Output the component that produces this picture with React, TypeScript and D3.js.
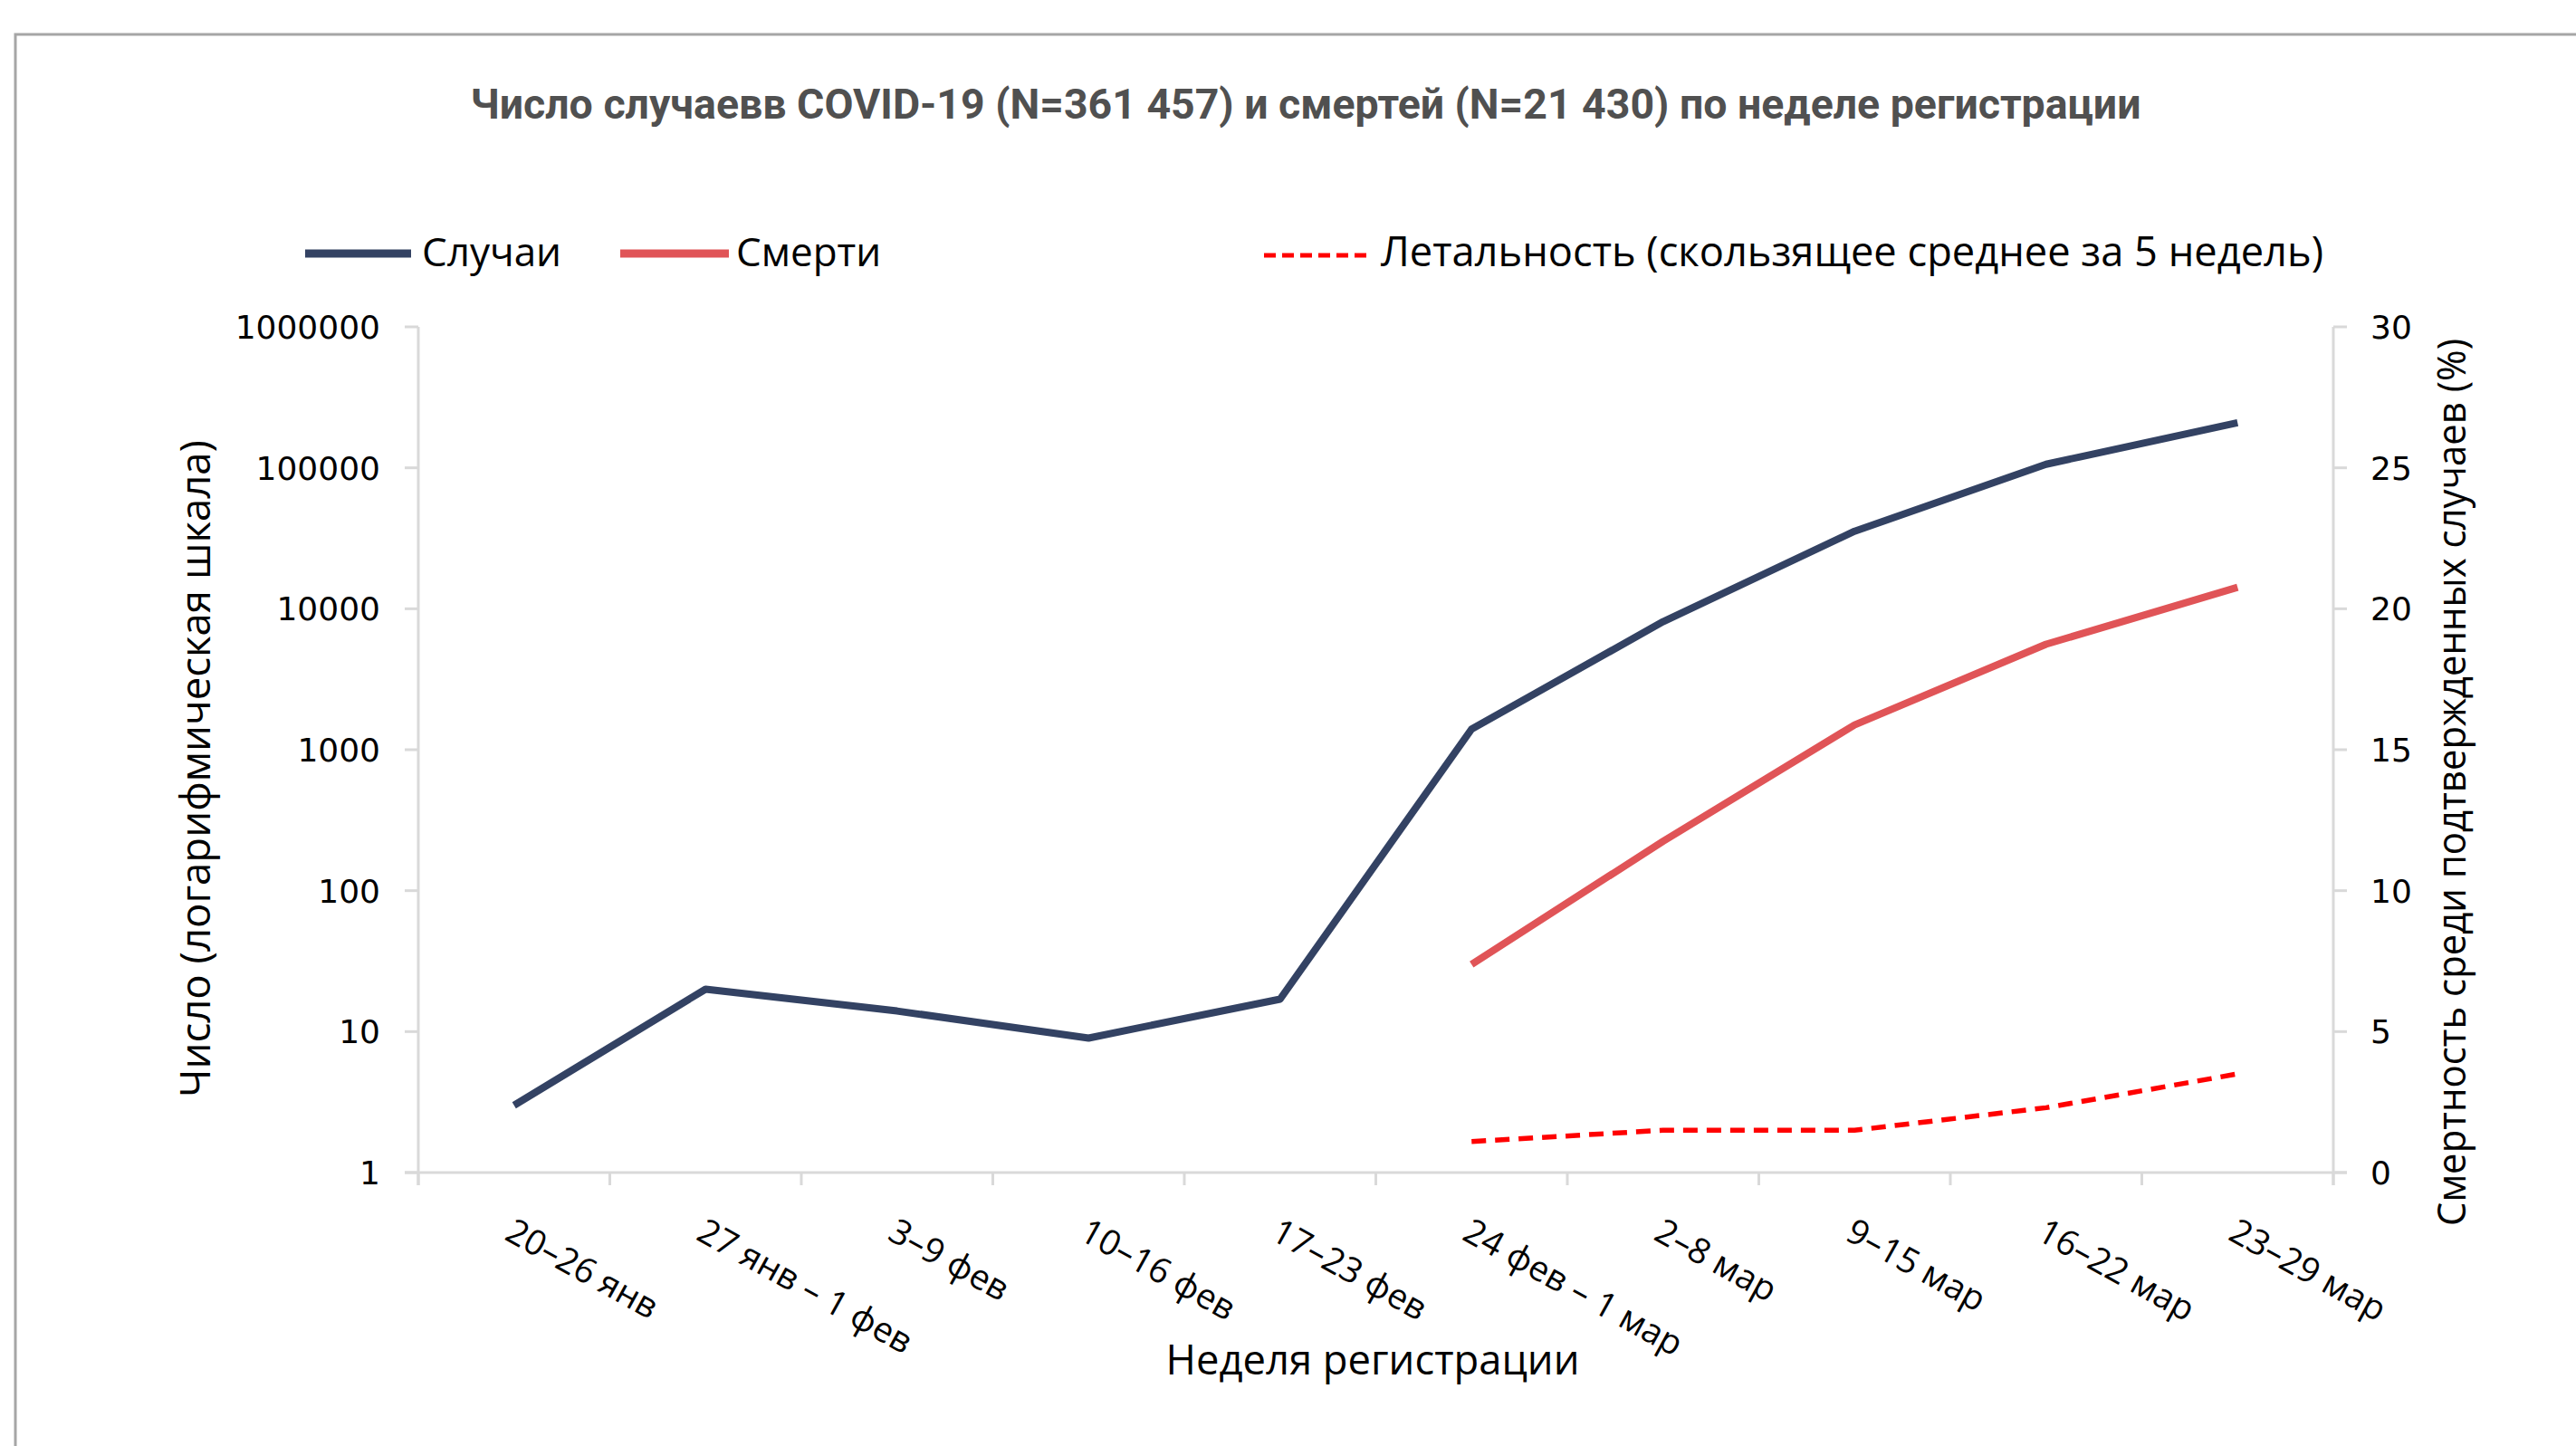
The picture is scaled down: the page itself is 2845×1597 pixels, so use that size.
import React from "react";
import * as d3 from "d3";

const categories = [
  "20–26 янв",
  "27 янв – 1 фев",
  "3–9 фев",
  "10–16 фев",
  "17–23 фев",
  "24 фев – 1 мар",
  "2–8 мар",
  "9–15 мар",
  "16–22 мар",
  "23–29 мар",
];
const cases: (number | null)[] = [3, 20, 14, 9, 17, 1400, 8100, 35500, 106000, 209000];
const deaths: (number | null)[] = [null, null, null, null, null, 30, 224, 1500, 5600, 14200];
const lethality: (number | null)[] = [null, null, null, null, null, 1.1, 1.5, 1.5, 2.3, 3.5];
const leftTicks = [1, 10, 100, 1000, 10000, 100000, 1000000];
const rightTicks = [0, 5, 10, 15, 20, 25, 30];

const W = 2845;
const H = 1597;
const plotL = 462;
const plotR = 2577;
const plotT = 361;
const plotB = 1295;

const NAVY = "#334263";
const RED = "#E05457";
const DASH = "#FF0000";
const AXIS = "#D9D9D9";
const SANS = "'Open Sans', 'Noto Sans', sans-serif";
const NUM = "'DejaVu Sans', Verdana, sans-serif";

export default function App() {
  const x = d3.scaleBand<string>().domain(categories).range([plotL, plotR]).padding(0);
  const bw = x.bandwidth();
  const cx = (c: string) => (x(c) as number) + bw / 2;
  const yL = d3.scaleLog().domain([1, 1e6]).range([plotB, plotT]);
  const yR = d3.scaleLinear().domain([0, 30]).range([plotB, plotT]);

  const lineL = d3
    .line<number | null>()
    .defined((d) => d != null)
    .x((_, i) => cx(categories[i]))
    .y((d) => yL(d as number));
  const lineR = d3
    .line<number | null>()
    .defined((d) => d != null)
    .x((_, i) => cx(categories[i]))
    .y((d) => yR(d as number));

  const boundaries = d3.range(categories.length + 1).map((i) => plotL + i * bw);

  return (
    <svg
      width={W}
      height={H}
      style={{ position: "absolute", left: 0, top: 0, background: "#fff" }}
    >
      <rect x={0} y={0} width={W} height={H} fill="#fff" />
      {/* outer frame */}
      <rect x={17} y={38} width={W + 100} height={H + 100} fill="none" stroke="#A6A6A6" strokeWidth={3} />

      {/* title */}
      <text
        x={1442}
        y={131}
        textAnchor="middle"
        fontFamily="Roboto, 'Liberation Sans', sans-serif"
        fontWeight={700}
        fontSize={46.5}
        fill="#505050"
        textLength={1845}
        lengthAdjust="spacingAndGlyphs"
      >
        Число случаевв COVID-19 (N=361 457) и смертей (N=21 430) по неделе регистрации
      </text>

      {/* legend */}
      <line x1={337} x2={454} y1={280} y2={280} stroke={NAVY} strokeWidth={9} />
      <text x={466} y={294} fontFamily={SANS} fontSize={44} fill="#000">
        Случаи
      </text>
      <line x1={685} x2={805} y1={280} y2={280} stroke={RED} strokeWidth={9} />
      <text x={813} y={294} fontFamily={SANS} fontSize={44} fill="#000">
        Смерти
      </text>
      <line x1={1396} x2={1513} y1={282} y2={282} stroke={DASH} strokeWidth={5} strokeDasharray="13 7" />
      <text
        x={1525}
        y={294}
        fontFamily={SANS}
        fontSize={45}
        fill="#000"
        textLength={1041}
        lengthAdjust="spacingAndGlyphs"
      >
        Летальность (скользящее среднее за 5 недель)
      </text>

      {/* axes */}
      <line x1={plotL} x2={plotL} y1={plotT} y2={plotB + 14} stroke={AXIS} strokeWidth={3} />
      <line x1={plotR} x2={plotR} y1={plotT} y2={plotB + 14} stroke={AXIS} strokeWidth={3} />
      <line x1={plotL - 15} x2={plotR + 15} y1={plotB} y2={plotB} stroke={AXIS} strokeWidth={3} />
      {leftTicks.map((t) => (
        <g key={"l" + t}>
          <line x1={plotL - 15} x2={plotL} y1={yL(t)} y2={yL(t)} stroke={AXIS} strokeWidth={3} />
          <text
            x={420}
            y={yL(t)}
            dy="0.36em"
            textAnchor="end"
            fontFamily={NUM}
            fontSize={36}
            fill="#000"
          >
            {String(t)}
          </text>
        </g>
      ))}
      {rightTicks.map((t) => (
        <g key={"r" + t}>
          <line x1={plotR} x2={plotR + 15} y1={yR(t)} y2={yR(t)} stroke={AXIS} strokeWidth={3} />
          <text x={2618} y={yR(t)} dy="0.36em" fontFamily={NUM} fontSize={36} fill="#000">
            {String(t)}
          </text>
        </g>
      ))}
      {boundaries.map((b, i) => (
        <line key={"b" + i} x1={b} x2={b} y1={plotB} y2={plotB + 14} stroke={AXIS} strokeWidth={3} />
      ))}
      {categories.map((c) => (
        <text
          key={c}
          transform={`translate(${cx(c) - 12},1368) rotate(29)`}
          fontFamily={SANS}
          fontSize={38.5}
          fill="#000"
        >
          {c}
        </text>
      ))}

      {/* axis titles */}
      <text
        x={1516}
        y={1518}
        textAnchor="middle"
        fontFamily={SANS}
        fontSize={45}
        fill="#000"
        textLength={457}
        lengthAdjust="spacingAndGlyphs"
      >
        Неделя регистрации
      </text>
      <text
        transform="translate(232,849) rotate(-90)"
        textAnchor="middle"
        fontFamily={SANS}
        fontSize={45}
        fill="#000"
        textLength={726}
        lengthAdjust="spacingAndGlyphs"
      >
        Число (логарифмическая шкала)
      </text>
      <text
        transform="translate(2723,864) rotate(-90)"
        textAnchor="middle"
        fontFamily={SANS}
        fontSize={43}
        fill="#000"
        textLength={980}
        lengthAdjust="spacingAndGlyphs"
      >
        Смертность среди подтвержденных случаев (%)
      </text>

      {/* series */}
      <path d={lineL(cases) || ""} fill="none" stroke={NAVY} strokeWidth={8} strokeLinejoin="round" />
      <path d={lineL(deaths) || ""} fill="none" stroke={RED} strokeWidth={8} strokeLinejoin="round" />
      <path
        d={lineR(lethality) || ""}
        fill="none"
        stroke={DASH}
        strokeWidth={5.5}
        strokeDasharray="16 10"
      />
    </svg>
  );
}
